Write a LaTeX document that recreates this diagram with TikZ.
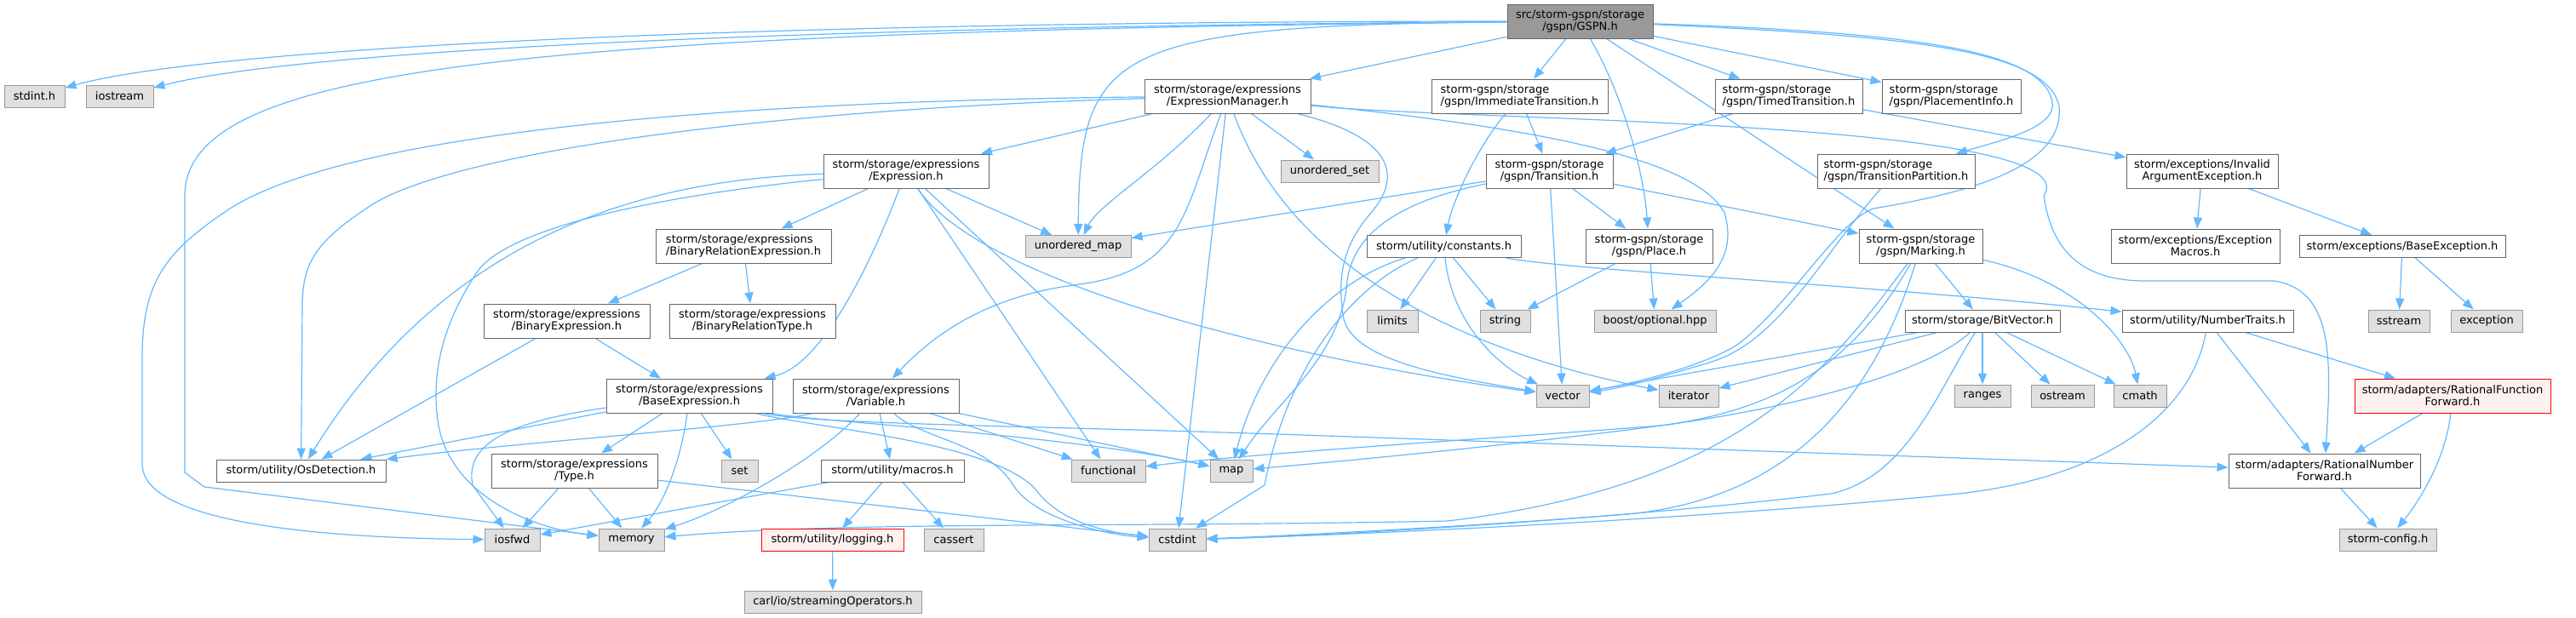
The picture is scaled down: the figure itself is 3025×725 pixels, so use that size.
\documentclass[tikz,border=0pt]{standalone}
\usepackage{fontspec}
\setmainfont{DejaVu Sans}
\usetikzlibrary{arrows.meta}
\definecolor{edgec}{HTML}{63B8FF}
\definecolor{bordw}{HTML}{666666}
\definecolor{bordg}{HTML}{999999}
\definecolor{fillg}{HTML}{E0E0E0}
\definecolor{fillr}{HTML}{FFF0F0}
\definecolor{rootf}{HTML}{999999}
\pgfdeclarelayer{bg}
\pgfsetlayers{bg,main}
\begin{document}
\begin{tikzpicture}[x=0.5pt,y=-0.5pt,
  basebox/.style={inner sep=0pt, font=\fontsize{6.5}{7}\selectfont, align=center, line width=0.5pt, text=black},
  wn/.style={basebox, draw=bordw, fill=white, minimum height=20pt},
  wn1/.style={basebox, draw=bordw, fill=white, minimum height=13pt},
  gn/.style={basebox, draw=bordg, fill=fillg, minimum height=13pt},
  rn/.style={basebox, draw=red, fill=fillr},
  rootn/.style={basebox, draw=bordw, fill=rootf, minimum height=20pt},
  lnk/.style={draw=edgec, line width=0.6pt, -{Triangle[length=6.5pt,width=5pt]}}]
\useasboundingbox (0,0) rectangle (3025,725);
% nodes
\node[rootn, minimum width=85.5pt] (gspn) at (1855.5,25) {src/storm-gspn/storage\\/gspn/GSPN.h};
\node[gn, minimum width=35.5pt] (stdint) at (40.5,113) {stdint.h};
\node[gn, minimum width=39.5pt] (iostream) at (140.5,113) {iostream};
\node[wn, minimum width=97.5pt] (exprmgr) at (1441.5,113) {storm/storage/expressions\\/ExpressionManager.h};
\node[wn, minimum width=103.5pt, align=left] (immtrans) at (1784.5,113) {storm-gspn/storage\\/gspn/ImmediateTransition.h};
\node[wn, minimum width=86.5pt, align=left] (timedtrans) at (2100.5,113) {storm-gspn/storage\\/gspn/TimedTransition.h};
\node[wn, minimum width=81.5pt, align=left] (placement) at (2291.5,113) {storm-gspn/storage\\/gspn/PlacementInfo.h};
\node[wn, minimum width=97pt] (expr) at (1064,201) {storm/storage/expressions\\/Expression.h};
\node[gn, minimum width=57.5pt] (unordset) at (1561.5,201) {unordered\_set};
\node[wn, minimum width=74.5pt] (transition) at (1819.5,201) {storm-gspn/storage\\/gspn/Transition.h};
\node[wn, minimum width=92.5pt, align=left] (transpart) at (2226.5,201) {storm-gspn/storage\\/gspn/TransitionPartition.h};
\node[wn, minimum width=89pt] (invarg) at (2586,201) {storm/exceptions/Invalid\\ArgumentException.h};
\node[wn, minimum width=103pt, align=left] (binrelexpr) at (873,289) {storm/storage/expressions\\/BinaryRelationExpression.h};
\node[gn, minimum width=62pt] (unordmap) at (1266,289.5) {unordered\_map};
\node[wn1, minimum width=90.5pt] (constants) at (1695.5,289.5) {storm/utility/constants.h};
\node[wn, minimum width=74.5pt] (place) at (1936.5,289) {storm-gspn/storage\\/gspn/Place.h};
\node[wn, minimum width=72.5pt] (marking) at (2255.5,289) {storm-gspn/storage\\/gspn/Marking.h};
\node[wn, minimum width=99pt] (excmacros) at (2578,289) {storm/exceptions/Exception\\Macros.h};
\node[wn1, minimum width=121pt] (baseexc) at (2821,289.5) {storm/exceptions/BaseException.h};
\node[wn, minimum width=97.5pt] (binexpr) at (665.5,377) {storm/storage/expressions\\/BinaryExpression.h};
\node[wn, minimum width=97.5pt] (binreltype) at (883.5,377) {storm/storage/expressions\\/BinaryRelationType.h};
\node[gn, minimum width=30pt] (limits) at (1635,377) {limits};
\node[gn, minimum width=29.5pt] (string) at (1767.5,377) {string};
\node[gn, minimum width=71.5pt] (boost) at (1943.5,377) {boost/optional.hpp};
\node[wn1, minimum width=91pt] (bitvector) at (2328,377) {storm/storage/BitVector.h};
\node[wn1, minimum width=100.5pt] (numtraits) at (2592.5,377) {storm/utility/NumberTraits.h};
\node[gn, minimum width=36pt] (sstream) at (2817,377) {sstream};
\node[gn, minimum width=42pt] (exception) at (2920,377) {exception};
\node[wn, minimum width=97.5pt] (baseexpr) at (809.5,465) {storm/storage/expressions\\/BaseExpression.h};
\node[wn, minimum width=97.5pt] (variable) at (1028.5,465) {storm/storage/expressions\\/Variable.h};
\node[gn, minimum width=31pt] (vector) at (1835,465) {vector};
\node[gn, minimum width=35pt] (iterator) at (1983,465) {iterator};
\node[gn, minimum width=33pt] (ranges) at (2328,465) {ranges};
\node[gn, minimum width=37pt] (ostream) at (2422,465) {ostream};
\node[gn, minimum width=31pt] (cmath) at (2513,465) {cmath};
\node[rn, minimum width=115pt, minimum height=20pt] (ratfunc) at (2880,465) {storm/adapters/RationalFunction\\Forward.h};
\node[wn1, minimum width=99.5pt] (osdet) at (353.5,553) {storm/utility/OsDetection.h};
\node[wn, minimum width=97.5pt] (type) at (674.5,553) {storm/storage/expressions\\/Type.h};
\node[gn, minimum width=21.5pt] (set) at (868.5,553) {set};
\node[wn1, minimum width=84pt] (macros) at (1048,553) {storm/utility/macros.h};
\node[gn, minimum width=43.5pt] (functional) at (1301.5,553) {functional};
\node[gn, minimum width=25pt] (map) at (1446,553) {map};
\node[wn, minimum width=112.5pt] (ratnum) at (2729.5,553) {storm/adapters/RationalNumber\\Forward.h};
\node[gn, minimum width=32.5pt] (iosfwd) at (601.5,634) {iosfwd};
\node[gn, minimum width=38.5pt] (memory) at (741.5,634) {memory};
\node[rn, minimum width=83.5pt, minimum height=13pt] (logging) at (977.5,634) {storm/utility/logging.h};
\node[gn, minimum width=35pt] (cassert) at (1120,634) {cassert};
\node[gn, minimum width=33.5pt] (cstdint) at (1382.5,634) {cstdint};
\node[gn, minimum width=57pt] (config) at (2804,634) {storm-config.h};
\node[gn, minimum width=104pt] (carl) at (978,707) {carl/io/streamingOperators.h};
% edges
\begin{pgfonlayer}{bg}
% GSPN
\draw[lnk] (gspn) .. controls (900,25) and (250,55) .. (stdint);
\draw[lnk] (gspn) .. controls (900,32) and (350,60) .. (iostream);
\draw[lnk] (gspn) .. controls (600,38) and (217,80) .. (217,230) -- (217,555) -- (240,572) -- (memory);
\draw[lnk] (gspn) .. controls (1300,30) and (1268,60) .. (unordmap);
\draw[lnk] (gspn) -- (exprmgr);
\draw[lnk] (gspn) -- (immtrans);
\draw[lnk] (gspn) -- (timedtrans);
\draw[lnk] (gspn) -- (placement);
\draw[lnk] (gspn) .. controls (2250,38) and (2400,60) .. (2410,120) .. controls (2415,150) and (2350,165) .. (transpart);
\draw[lnk] (gspn) .. controls (2250,42) and (2405,60) .. (2418,125) .. controls (2425,200) and (2300,228) .. (2200,245) .. controls (2160,258) and (2100,360) .. (2040,405) .. controls (2000,430) and (1920,450) .. (vector);
\draw[lnk] (gspn) .. controls (1905,110) and (1930,200) .. (place);
\draw[lnk] (gspn) -- (marking);
% ExpressionManager
\draw[lnk] (exprmgr) .. controls (900,118) and (420,150) .. (270,245) .. controls (195,295) and (167,330) .. (167,420) -- (167,545) .. controls (167,615) and (380,632) .. (iosfwd);
\draw[lnk] (exprmgr) .. controls (900,128) and (520,180) .. (430,245) .. controls (370,285) and (355,310) .. (355,360) -- (osdet);
\draw[lnk] (exprmgr) -- (expr);
\draw[lnk] (exprmgr) -- (unordset);
\draw[lnk] (exprmgr) .. controls (1360,200) and (1290,240) .. (unordmap);
\draw[lnk] (exprmgr) .. controls (1390,250) and (1390,320) .. (1260,335) .. controls (1150,350) and (1090,400) .. (variable);
\draw[lnk] (exprmgr) -- (cstdint);
\draw[lnk] (exprmgr) .. controls (1520,330) and (1750,420) .. (iterator);
\draw[lnk] (exprmgr) .. controls (1700,142) and (2460,140) .. (2400,230) .. controls (2410,300) and (2450,330) .. (2520,330) -- (2670,330) .. controls (2740,340) and (2738,420) .. (ratnum);
\draw[lnk] (exprmgr) .. controls (1800,150) and (1990,185) .. (2025,250) .. controls (2040,300) and (2010,330) .. (boost);
\draw[lnk] (exprmgr) .. controls (1650,165) and (1640,215) .. (1610,250) .. controls (1575,290) and (1570,330) .. (1578,375) .. controls (1590,420) and (1680,440) .. (vector);
% ImmediateTransition / TimedTransition / TransitionPartition
\draw[lnk] (immtrans) -- (transition);
\draw[lnk] (immtrans) .. controls (1730,180) and (1705,240) .. (constants);
\draw[lnk] (timedtrans) -- (transition);
\draw[lnk] (timedtrans) -- (invarg);
\draw[lnk] (transpart) .. controls (2140,300) and (2090,400) .. (2010,425) .. controls (1960,440) and (1910,455) .. (vector);
% Transition
\draw[lnk] (transition) -- (unordmap);
\draw[lnk] (transition) .. controls (1650,235) and (1590,270) .. (1582,330) .. controls (1575,420) and (1500,470) .. (map);
\draw[lnk] (transition) -- (vector);
\draw[lnk] (transition) -- (place);
\draw[lnk] (transition) -- (marking);
% Expression
\draw[lnk] (expr) -- (binrelexpr);
\draw[lnk] (expr) .. controls (1015,330) and (960,430) .. (baseexpr);
\draw[lnk] (expr) .. controls (800,210) and (540,250) .. (osdet);
\draw[lnk] (expr) .. controls (820,225) and (600,260) .. (560,320) .. controls (520,380) and (505,440) .. (515,500) .. controls (530,580) and (620,620) .. (memory);
\draw[lnk] (expr) -- (unordmap);
\draw[lnk] (expr) -- (functional);
\draw[lnk] (expr) -- (map);
\draw[lnk] (expr) .. controls (1150,330) and (1500,420) .. (vector);
% Binary*
\draw[lnk] (binrelexpr) -- (binexpr);
\draw[lnk] (binrelexpr) -- (binreltype);
\draw[lnk] (binexpr) -- (baseexpr);
\draw[lnk] (binexpr) -- (osdet);
% BaseExpression
\draw[lnk] (baseexpr) -- (osdet);
\draw[lnk] (baseexpr) .. controls (600,495) and (545,520) .. (555,570) -- (iosfwd);
\draw[lnk] (baseexpr) -- (type);
\draw[lnk] (baseexpr) .. controls (800,540) and (780,590) .. (memory);
\draw[lnk] (baseexpr) -- (set);
\draw[lnk] (baseexpr) .. controls (950,498) and (1200,500) .. (1500,510) -- (ratnum);
\draw[lnk] (baseexpr) .. controls (950,495) and (1250,510) .. (map);
\draw[lnk] (baseexpr) .. controls (950,502) and (1180,520) .. (1220,580) .. controls (1250,615) and (1300,625) .. (cstdint);
% Variable
\draw[lnk] (variable) .. controls (900,500) and (600,520) .. (osdet);
\draw[lnk] (variable) .. controls (960,540) and (850,600) .. (memory);
\draw[lnk] (variable) -- (macros);
\draw[lnk] (variable) -- (functional);
\draw[lnk] (variable) -- (map);
\draw[lnk] (variable) .. controls (1080,515) and (1160,520) .. (1190,570) .. controls (1215,610) and (1300,628) .. (cstdint);
% Type, macros, logging
\draw[lnk] (type) -- (iosfwd);
\draw[lnk] (type) -- (memory);
\draw[lnk] (type) -- (cstdint);
\draw[lnk] (macros) -- (logging);
\draw[lnk] (macros) -- (cassert);
\draw[lnk] (macros) -- (iosfwd);
\draw[lnk] (logging) -- (carl);
% constants
\draw[lnk] (constants) -- (limits);
\draw[lnk] (constants) -- (string);
\draw[lnk] (constants) .. controls (1705,380) and (1760,430) .. (vector);
\draw[lnk] (constants) .. controls (1560,330) and (1480,420) .. (map);
\draw[lnk] (constants) .. controls (1580,340) and (1510,440) .. (1485,570) -- (cstdint);
\draw[lnk] (constants) .. controls (1850,318) and (2200,335) .. (numtraits);
% Place
\draw[lnk] (place) -- (string);
\draw[lnk] (place) -- (boost);
% Marking
\draw[lnk] (marking) -- (bitvector);
\draw[lnk] (marking) .. controls (2440,330) and (2500,400) .. (cmath);
\draw[lnk] (marking) .. controls (2180,420) and (2100,480) .. (1950,500) .. controls (1800,520) and (1600,540) .. (map);
\draw[lnk] (marking) .. controls (2200,470) and (2100,590) .. (1900,605) .. controls (1700,620) and (1500,630) .. (cstdint);
\draw[lnk] (marking) .. controls (2150,430) and (2050,570) .. (1700,612) .. controls (1300,620) and (1000,612) .. (memory);
% BitVector
\draw[lnk] (bitvector) -- (vector);
\draw[lnk] (bitvector) -- (iterator);
\draw[lnk] (bitvector) .. controls (2260,440) and (2100,480) .. (1950,500) .. controls (1800,512) and (1500,530) .. (functional);
\draw[lnk] (bitvector) .. controls (2275,460) and (2240,560) .. (2150,580) .. controls (1900,610) and (1550,630) .. (cstdint);
\draw[lnk] (bitvector) -- (ranges);
\draw[lnk] (bitvector) -- (ostream);
\draw[lnk] (bitvector) -- (cmath);
% NumberTraits and adapters
\draw[lnk] (numtraits) -- (ratfunc);
\draw[lnk] (numtraits) -- (ratnum);
\draw[lnk] (numtraits) .. controls (2575,480) and (2480,560) .. (2300,580) .. controls (2000,610) and (1600,628) .. (cstdint);
\draw[lnk] (ratfunc) -- (ratnum);
\draw[lnk] (ratfunc) .. controls (2872,540) and (2840,590) .. (config);
\draw[lnk] (ratnum) -- (config);
% exceptions
\draw[lnk] (invarg) -- (excmacros);
\draw[lnk] (invarg) -- (baseexc);
\draw[lnk] (baseexc) -- (sstream);
\draw[lnk] (baseexc) -- (exception);
\end{pgfonlayer}
\end{tikzpicture}
\end{document}
